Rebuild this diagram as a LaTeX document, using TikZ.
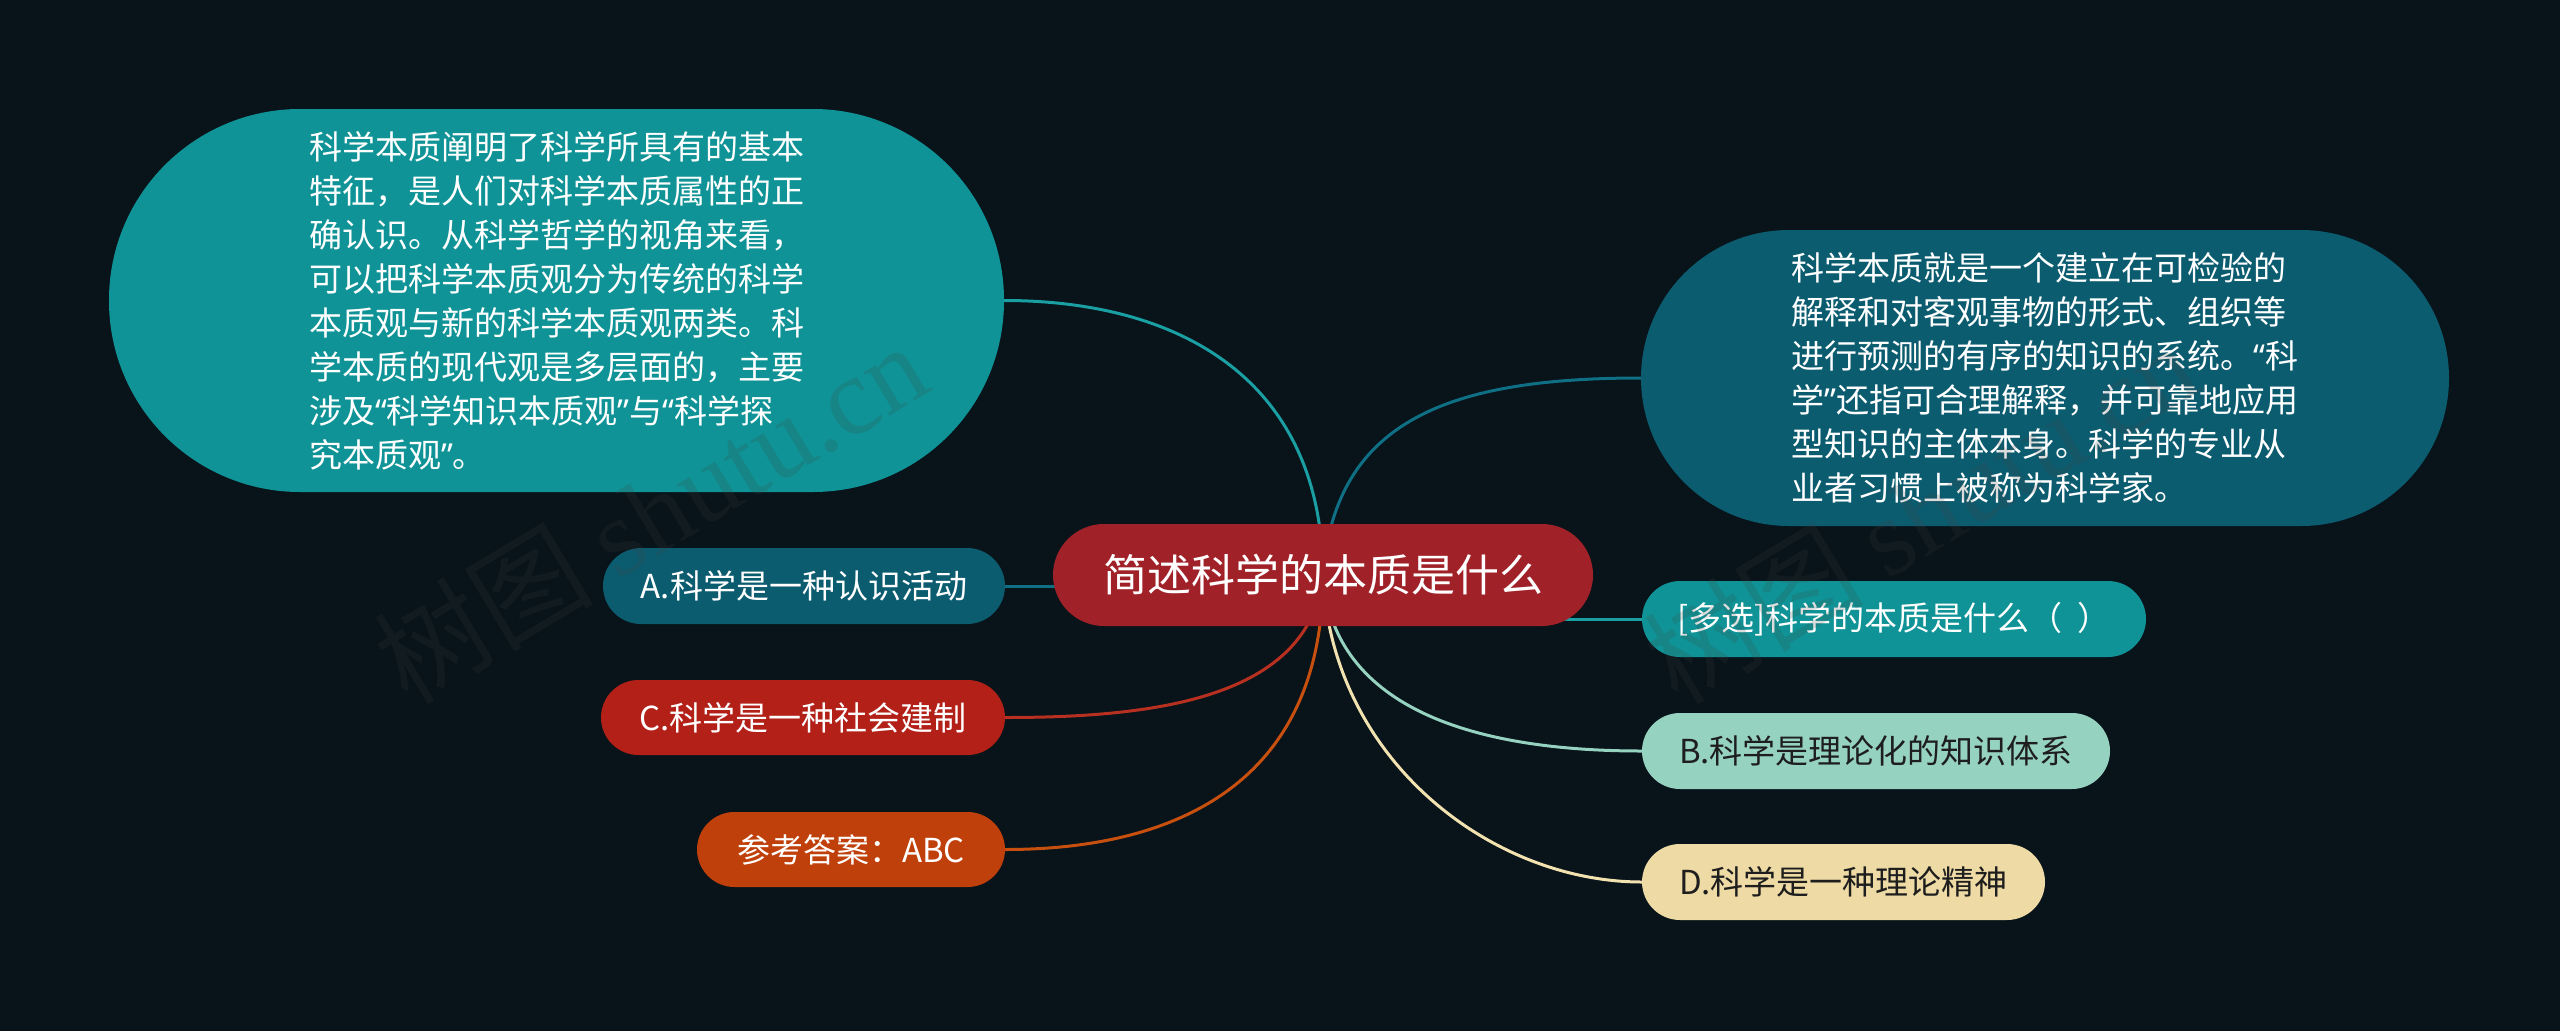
\documentclass[tikz,border=0pt]{standalone}
\usepackage{fontspec}
\setmainfont{Noto Sans CJK SC}
\newfontfamily\wmlatin{Liberation Serif}
\newfontfamily\qtfont{Noto Sans}
\newcommand\myoq{{\qtfont “}}
\newcommand\mycq{{\qtfont ”}}
\usetikzlibrary{calc}
\definecolor{bgc}{HTML}{08131A}
\definecolor{tealN}{HTML}{0F9396}
\definecolor{navyN}{HTML}{0C5C70}
\definecolor{rootN}{HTML}{A02228}
\definecolor{redN}{HTML}{B22018}
\definecolor{orangeN}{HTML}{C0400C}
\definecolor{mintN}{HTML}{96D2C0}
\definecolor{beigeN}{HTML}{EEDAA4}
\definecolor{lnTeal}{HTML}{1A9FA3}
\definecolor{lnNavy}{HTML}{0E6F85}
\definecolor{lnRed}{HTML}{B83020}
\definecolor{lnOrange}{HTML}{C8500F}
\definecolor{lnMint}{HTML}{96D2C0}
\definecolor{lnBeige}{HTML}{F2E2B0}
\definecolor{darkTxt}{HTML}{1E1E1E}
\definecolor{wmc}{HTML}{404040}
\pgfdeclarelayer{bgl}
\pgfdeclarelayer{conn}
\pgfsetlayers{bgl,conn,main}
\tikzset{
  pill/.style={rectangle, inner sep=0pt, text=white, font=\fontsize{33}{44}\selectfont},
  conn/.style={line width=3pt, line cap=round},
  wm/.style={text=wmc, text opacity=0.18, font=\fontsize{110}{120}\selectfont, inner sep=0pt}
}
\begin{document}
\begin{tikzpicture}[x=1pt,y=-1pt]
\useasboundingbox (0,0) rectangle (2560,1031);
\begin{pgfonlayer}{bgl}
\fill[bgc] (0,0) rectangle (2560,1031);
\end{pgfonlayer}

% nodes
\node[pill, fill=rootN, minimum width=540pt, minimum height=102pt, rounded corners=51pt,
      font=\fontsize{44}{50}\selectfont] (root) at (1323,575) {简述科学的本质是什么};

\node[pill, fill=tealN, minimum width=895pt, minimum height=383pt, rounded corners=191pt, align=left]
  (big1) at (556.5,300.5) {科学本质阐明了科学所具有的基本\\
特征，是人们对科学本质属性的正\\
确认识。从科学哲学的视角来看，\\
可以把科学本质观分为传统的科学\\
本质观与新的科学本质观两类。科\\
学本质的现代观是多层面的，主要\\
涉及\myoq 科学知识本质观\mycq 与\myoq 科学探\\
究本质观\mycq 。};

\node[pill, fill=navyN, minimum width=808pt, minimum height=296pt, rounded corners=148pt, align=left]
  (big2) at (2045,378) {科学本质就是一个建立在可检验的\\
解释和对客观事物的形式、组织等\\
进行预测的有序的知识的系统。\myoq 科\\
学\mycq 还指可合理解释，并可靠地应用\\
型知识的主体本身。科学的专业从\\
业者习惯上被称为科学家。};

\node[pill, fill=navyN, minimum width=402pt, minimum height=76pt, rounded corners=38pt]
  (optA) at (804,586) {A.科学是一种认识活动};
\node[pill, fill=redN, minimum width=404pt, minimum height=75pt, rounded corners=37.5pt]
  (optC) at (803,717.5) {C.科学是一种社会建制};
\node[pill, fill=orangeN, minimum width=308pt, minimum height=75pt, rounded corners=37.5pt]
  (ans) at (851,849.5) {参考答案：ABC};
\node[pill, fill=tealN, minimum width=504pt, minimum height=76pt, rounded corners=38pt]
  (multi) at (1894,619) {[多选]科学的本质是什么（\hspace{0.45em}）};
\node[pill, fill=mintN, text=darkTxt, minimum width=468pt, minimum height=76pt, rounded corners=38pt]
  (optB) at (1876,751) {B.科学是理论化的知识体系};
\node[pill, fill=beigeN, text=darkTxt, minimum width=403pt, minimum height=76pt, rounded corners=38pt]
  (optD) at (1843.5,882) {D.科学是一种理论精神};

% connectors
\begin{pgfonlayer}{conn}
\draw[conn, draw=lnTeal] (root.center) .. controls ($(root.center)+(-1,-195)$) and ($(big1.east)+(176,0)$) .. (big1.east);
\draw[conn, draw=lnNavy] (root.center) .. controls ($(root.center)+(12,-155)$) and ($(big2.west)+(-191,0)$) .. (big2.west);
\draw[conn, draw=lnNavy] (optA.east) -- (optA.east -| root.center);
\draw[conn, draw=lnTeal] (multi.west) -- (multi.west -| root.center);
\draw[conn, draw=lnRed] (root.center) .. controls ($(root.center)+(-13,125)$) and ($(optC.east)+(145,0)$) .. (optC.east);
\draw[conn, draw=lnOrange] (root.center) .. controls ($(root.center)+(0,205)$) and ($(ans.east)+(175,0)$) .. (ans.east);
\draw[conn, draw=lnMint] (root.center) .. controls ($(root.center)+(8,115)$) and ($(optB.west)+(-202,0)$) .. (optB.west);
\draw[conn, draw=lnBeige] (root.center) .. controls ($(root.center)+(8,185)$) and ($(optD.west)+(-150,0)$) .. (optD.west);
\end{pgfonlayer}

% watermark
\node[wm, rotate=31] (wm1) at (650,512) {树图 {\wmlatin shutu.cn}};
\node[wm, rotate=31] (wm2) at (1920,512) {树图 {\wmlatin shutu.cn}};
\end{tikzpicture}
\end{document}
